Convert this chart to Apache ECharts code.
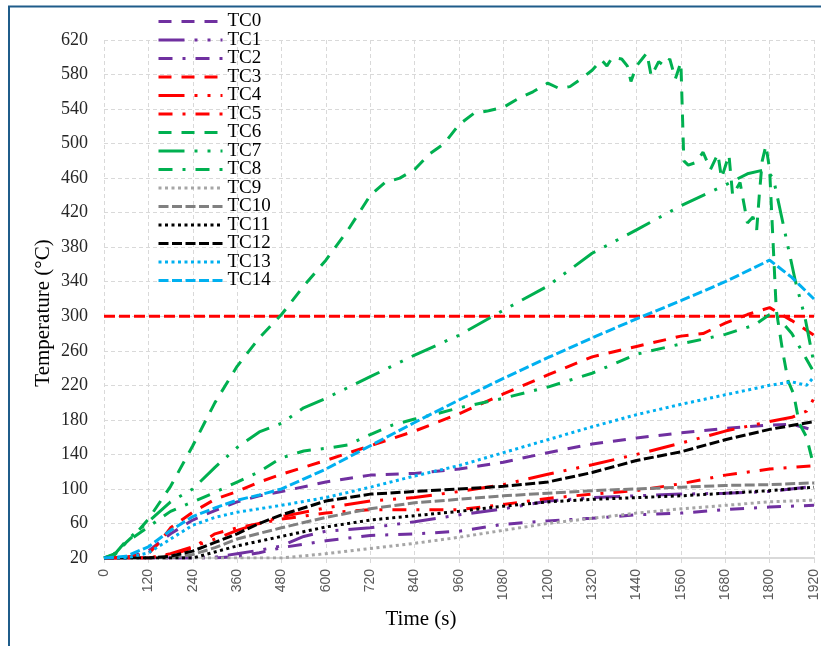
<!DOCTYPE html>
<html>
<head>
<meta charset="utf-8">
<script src="https://cdn.jsdelivr.net/npm/echarts@6/dist/echarts.min.js"></script>
<style>html,body{margin:0;padding:0;background:#fff;}#c{width:821px;height:646px;}</style>
</head>
<body>
<div id="c"></div>
<script>
// ---- data: [time (s), temperature (°C)] ----
const seriesNames = ['TC0','TC1','TC2','TC3','TC4','TC5','TC6','TC7','TC8','TC9','TC10','TC11','TC12','TC13','TC14'];
const xTicks = [0,120,240,360,480,600,720,840,960,1080,1200,1320,1440,1560,1680,1800,1920];
const yTicks = [20,60,100,140,180,220,260,300,340,380,420,460,500,540,580,620];
const limitLine = [[0,300],[1920,300]];

const TC0 = [[0,20],[60,20],[120,28],[180,48],[240,64],[300,75],[360,85],[420,92],[480,97],[600,108],[720,116],[840,118],[960,123],[1080,131],[1200,142],[1320,152],[1440,159],[1560,165],[1680,170],[1800,174],[1860,175],[1920,168]];
const TC1 = [[0,20],[240,20],[300,21],[360,25],[420,29],[480,34],[540,45],[600,51],[720,55],[840,62],[960,70],[1080,77],[1200,86],[1320,90],[1440,92],[1560,94],[1680,95],[1800,97],[1920,103]];
const TC2 = [[0,20],[300,20],[360,22],[420,26],[480,32],[600,40],[720,46],[840,48],[960,51],[1080,59],[1200,63],[1320,66],[1440,70],[1560,72],[1680,76],[1800,79],[1920,81]];
const TC3 = [[0,20],[60,21],[120,25],[150,38],[180,55],[240,73],[300,88],[360,97],[420,108],[480,117],[600,133],[720,150],[840,167],[960,187],[1080,210],[1200,232],[1320,253],[1440,265],[1560,277],[1620,280],[1680,292],[1740,302],[1800,310],[1860,295],[1920,278]];
const TC4 = [[0,20],[120,20],[180,25],[240,33],[300,42],[360,52],[420,60],[480,68],[600,78],[720,86],[840,90],[960,97],[1080,105],[1200,117],[1320,128],[1440,140],[1560,153],[1680,167],[1800,178],[1860,183],[1900,190],[1920,205]];
const TC5 = [[0,20],[120,20],[180,23],[240,32],[300,48],[360,55],[480,65],[600,72],[720,76],[840,76],[960,76],[1080,82],[1200,89],[1320,94],[1440,98],[1560,106],[1680,116],[1800,123],[1920,127]];
const TC6 = [[0,20],[20,22],[40,30],[60,38],[90,50],[120,65],[180,103],[240,150],[300,200],[360,242],[420,275],[480,302],[540,335],[600,365],[660,400],[720,440],[760,455],[800,460],[840,470],[880,488],[920,500],[960,522],[1000,535],[1040,538],[1080,542],[1120,552],[1160,560],[1200,570],[1230,564],[1260,566],[1290,575],[1320,585],[1345,597],[1360,590],[1375,600],[1400,598],[1415,590],[1425,572],[1440,590],[1455,598],[1468,605],[1480,578],[1500,595],[1515,590],[1530,598],[1545,575],[1560,594],[1568,480],[1580,475],[1600,478],[1620,490],[1640,470],[1660,488],[1670,460],[1690,487],[1700,440],[1720,455],[1740,408],[1755,415],[1765,400],[1772,440],[1780,480],[1790,498],[1800,470],[1818,307],[1835,260],[1850,225],[1865,210],[1880,176],[1900,160],[1920,125]];
const TC7 = [[0,20],[30,25],[60,40],[120,62],[180,85],[240,100],[300,125],[360,148],[420,166],[480,176],[540,194],[600,205],[720,230],[840,255],[960,278],[1080,307],[1200,335],[1320,373],[1440,400],[1560,428],[1680,452],[1740,465],[1790,470],[1810,460],[1840,400],[1870,340],[1895,300],[1920,245]];
const TC8 = [[0,20],[30,24],[60,38],[120,56],[180,74],[240,85],[300,96],[360,108],[420,120],[480,136],[540,144],[600,147],[660,151],[720,163],[780,174],[840,181],[900,187],[960,194],[1080,205],[1200,218],[1320,234],[1440,256],[1560,268],[1680,279],[1760,290],[1810,305],[1860,280],[1920,235]];
const TC9 = [[0,20],[480,20],[600,25],[720,31],[840,37],[960,44],[1080,52],[1200,60],[1320,66],[1440,72],[1560,77],[1680,81],[1800,85],[1920,87]];
const TC10 = [[0,20],[180,20],[240,24],[300,32],[360,42],[480,55],[600,67],[720,77],[840,84],[960,88],[1080,92],[1200,95],[1320,98],[1440,100],[1560,102],[1680,104],[1800,105],[1920,107]];
const TC11 = [[0,20],[240,20],[300,27],[360,34],[480,45],[600,56],[720,64],[840,69],[960,74],[1080,80],[1200,85],[1320,88],[1440,90],[1560,92],[1680,95],[1800,98],[1920,102]];
const TC12 = [[0,20],[120,20],[180,22],[240,28],[300,38],[360,48],[420,60],[480,70],[600,86],[720,94],[840,97],[960,100],[1080,103],[1200,108],[1320,119],[1440,133],[1560,143],[1680,157],[1800,169],[1920,178]];
const TC13 = [[0,20],[60,20],[120,26],[180,42],[240,58],[300,67],[360,73],[480,81],[600,90],[720,102],[840,115],[960,127],[1080,142],[1200,157],[1320,172],[1440,186],[1560,198],[1680,209],[1800,220],[1860,224],[1900,220],[1920,230]];
const TC14 = [[0,20],[60,22],[120,33],[180,52],[240,68],[300,78],[360,87],[420,93],[480,100],[600,123],[720,150],[840,177],[960,203],[1080,228],[1200,252],[1320,275],[1440,297],[1560,318],[1680,340],[1800,365],[1860,345],[1920,320]];

const seriesData = [TC0,TC1,TC2,TC3,TC4,TC5,TC6,TC7,TC8,TC9,TC10,TC11,TC12,TC13,TC14];

// ---- styles ----
const PURPLE='#7030A0', RED='#FF0000', GREEN='#00B050', GRAY1='#A6A6A6', GRAY2='#808080', BLACK='#000000', BLUE='#00B0F0';
const DASH=[13,10], LDDD=[26,10,3,10,3,10], DDOT=[14,10,3,10], DOT=[3,3.5], SDASH=[10,3.5];
const styles = [
  [PURPLE,DASH],[PURPLE,LDDD],[PURPLE,DDOT],
  [RED,DASH],[RED,LDDD],[RED,DDOT],
  [GREEN,DASH],[GREEN,LDDD],[GREEN,DDOT],
  [GRAY1,DOT],[GRAY2,SDASH],[BLACK,DOT],[BLACK,SDASH],[BLUE,DOT],[BLUE,SDASH]
];

const series = seriesNames.map((n,i)=>({
  name:n, type:'line', data:seriesData[i], symbol:'none', smooth:false,
  z: 3,
  lineStyle:{color:styles[i][0], width:3, type:styles[i][1], cap:'butt'},
  itemStyle:{color:styles[i][0]}
}));
series.push({
  name:'limit', type:'line', data:limitLine, symbol:'none', z:2,
  lineStyle:{color:RED, width:3, type:[11,4]}, itemStyle:{color:RED}
});

const chart = echarts.init(document.getElementById('c'), null, {renderer:'canvas'});
chart.setOption({
  animation:false,
  backgroundColor:'#fff',
  graphic:[{type:'rect', silent:true, z:100,
    shape:{x:9,y:6.5,width:900,height:700},
    style:{fill:'none', stroke:'#1F5C8A', lineWidth:2}}],
  grid:{left:104, right:3, top:40, bottom:88, containLabel:false},
  legend:{
    data:seriesNames, orient:'vertical', left:157, top:12, padding:0,
    itemWidth:64, itemHeight:14, itemGap:-0.5, selectedMode:false,
    itemStyle:{opacity:0},
    lineStyle:{width:3},
    textStyle:{fontFamily:'Liberation Serif', fontSize:19, color:'#000'}
  },
  xAxis:{
    type:'value', min:xTicks[0], max:xTicks[xTicks.length-1], interval:120,
    name:'Time (s)', nameLocation:'middle', nameGap:51,
    nameTextStyle:{fontFamily:'Liberation Serif', fontSize:21, color:'#000', padding:[0,76,0,0]},
    axisLine:{show:true, lineStyle:{color:'#D9D9D9', width:2}},
    axisTick:{show:true, length:5, lineStyle:{color:'#D9D9D9', width:1}},
    axisLabel:{rotate:90, margin:11, fontFamily:'Liberation Sans', fontSize:14, color:'#595959',
      formatter:(v)=>String(v)},
    splitLine:{show:true, lineStyle:{color:'#D9D9D9', type:[4,3], width:1}}
  },
  yAxis:{
    type:'value', min:yTicks[0], max:yTicks[yTicks.length-1], interval:40,
    name:'Temperature (°C)', nameLocation:'middle', nameGap:50, nameRotate:90,
    nameMoveOverlap:false,
    nameTextStyle:{fontFamily:'Liberation Serif', fontSize:21, color:'#000', padding:[0,28,0,0]},
    axisLine:{show:false}, axisTick:{show:false},
    axisLabel:{margin:16, fontFamily:'Liberation Serif', fontSize:18, color:'#262626',
      formatter:(v)=>String(v)},
    splitLine:{show:true, lineStyle:{color:'#D9D9D9', type:[4,3], width:1}}
  },
  series:series
});
</script>
</body>
</html>
